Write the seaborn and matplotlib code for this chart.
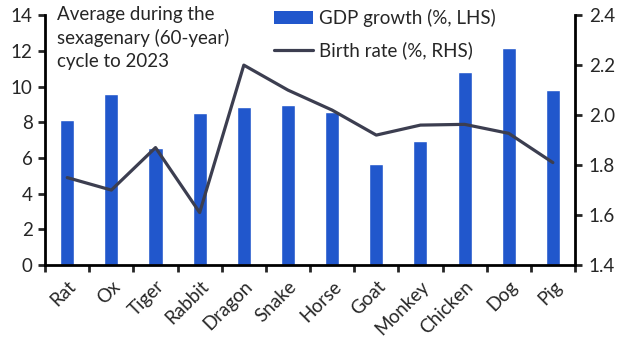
import seaborn as sns
import pandas as pd
import numpy as np
import matplotlib as mpl
import matplotlib.pyplot as plt
from matplotlib.patches import Patch
from matplotlib.lines import Line2D
from matplotlib.ticker import MultipleLocator, FixedLocator

animals = ["Rat", "Ox", "Tiger", "Rabbit", "Dragon", "Snake", "Horse",
           "Goat", "Monkey", "Chicken", "Dog", "Pig"]
gdp_growth = [8.1, 9.6, 6.55, 8.5, 8.85, 8.95, 8.6, 5.65, 6.95, 10.8, 12.15, 9.8]
birth_rate = [1.75, 1.70, 1.87, 1.61, 2.20, 2.10, 2.02, 1.92, 1.96, 1.963, 1.927, 1.81]

bar_col = "#2157CC"
line_col = "#3C3E50"
fs = 13.5

sns.set_style("white")
mpl.rcParams['font.family'] = ['Lato', 'DejaVu Sans']
mpl.rcParams['font.size'] = fs

df = pd.DataFrame({"animal": animals, "gdp": gdp_growth, "birth": birth_rate})

fig = plt.figure(figsize=(6.27, 3.52), dpi=100)
ax = fig.add_axes([0.072, 0.247, 0.845, 0.71])
sns.barplot(data=df, x="animal", y="gdp", color=bar_col, width=0.32,
            saturation=1, ax=ax)
ax.set_ylim(0, 14)
ax.set_xlim(-0.5, len(animals) - 0.5)
ax.yaxis.set_major_locator(MultipleLocator(2))
ax.set_xlabel("")
ax.set_ylabel("")

ax2 = ax.twinx()
sns.lineplot(x=np.arange(len(animals)), y=df["birth"], color=line_col,
             linewidth=2.3, ax=ax2)
ax2.set_ylim(1.4, 2.4)
ax2.yaxis.set_major_locator(MultipleLocator(0.2))
ax2.yaxis.set_major_formatter(mpl.ticker.FormatStrFormatter('%.1f'))
ax2.set_ylabel("")

for a in (ax, ax2):
    for s in a.spines.values():
        s.set_linewidth(2)
        s.set_color("black")
    a.spines['top'].set_visible(False)

ax.spines['right'].set_visible(False)
ax2.spines['left'].set_visible(False)
ax2.spines['bottom'].set_visible(False)

ax.tick_params(axis='y', which='major', direction='out', length=5, width=2,
               left=True, labelsize=fs, pad=4)
ax2.tick_params(axis='y', which='major', direction='out', length=5, width=2,
                right=True, labelsize=fs, pad=5)
ax.set_xticks(np.arange(len(animals)))
ax.set_xticklabels(animals, rotation=45, ha='right', rotation_mode='anchor')
ax.tick_params(axis='x', which='major', length=0, labelsize=fs, pad=9)
ax.xaxis.set_minor_locator(FixedLocator(np.arange(-0.5, len(animals), 1.0)))
ax.tick_params(axis='x', which='minor', direction='out', length=5, width=2,
               bottom=True)

fig.text(0.091, 0.983, "Average during the\nsexagenary (60-year)\ncycle to 2023",
         ha='left', va='top', fontsize=fs, linespacing=1.4)

handles = [Patch(facecolor=bar_col, edgecolor='none'),
           Line2D([0], [0], color=line_col, linewidth=2.3)]
fig.legend(handles, ["GDP growth (%, LHS)", "Birth rate (%, RHS)"],
           loc='upper left', bbox_to_anchor=(0.425, 0.995), frameon=False,
           fontsize=fs, handlelength=2.1, handletextpad=0.3,
           labelspacing=0.75, borderaxespad=0)

fig.savefig("out.png", dpi=100)
